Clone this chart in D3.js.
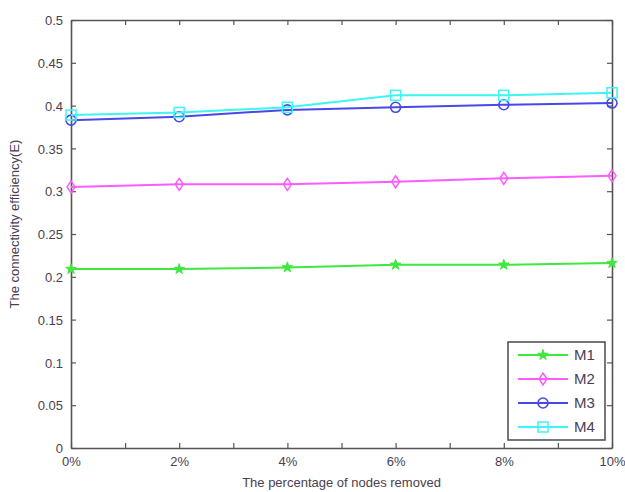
<!DOCTYPE html>
<html>
<head>
<meta charset="utf-8">
<script src="https://cdn.jsdelivr.net/npm/d3@7"></script>
<style>
  body { margin: 0; background: #fff; }
  svg { font-family: Arial, "Liberation Sans", sans-serif; }
</style>
</head>
<body>
<div id="chart"></div>
<script>
// data
const removed = [0, 2, 4, 6, 8, 10];           // % of nodes removed
const m1 = [0.209, 0.209, 0.211, 0.214, 0.214, 0.216];
const m2 = [0.305, 0.308, 0.308, 0.311, 0.315, 0.318];
const m3 = [0.383, 0.387, 0.395, 0.398, 0.401, 0.403];
const m4 = [0.389, 0.392, 0.398, 0.412, 0.412, 0.415];
const seriesNames = ['M1', 'M2', 'M3', 'M4'];
const yTicks = [0, 0.05, 0.1, 0.15, 0.2, 0.25, 0.3, 0.35, 0.4, 0.45, 0.5];
const xTicks = [0, 1, 2, 3, 4, 5, 6, 7, 8, 9, 10];
const xLabelled = [0, 2, 4, 6, 8, 10];

const width = 625, height = 492;
const margin = [20, 44, 71, 13]; // top, bottom, left, right
const axisColor = '#555', textColor = '#4a4050';

const series = [
    { name: seriesNames[0], values: m1, color: '#3fe83f', marker: 'star' },
    { name: seriesNames[1], values: m2, color: '#ff5cff', marker: 'diamond' },
    { name: seriesNames[2], values: m3, color: '#4848e8', marker: 'circle' },
    { name: seriesNames[3], values: m4, color: '#3ef4f4', marker: 'square' }
];

const svg = d3.select('#chart').append('svg')
    .attr('width', width)
    .attr('height', height);

const chartW = width - margin[2] - margin[3],
      chartH = height - margin[0] - margin[1];

const x = d3.scaleLinear([0, 10], [0, chartW]);
const y = d3.scaleLinear([0, 0.5], [chartH, 0]);

const chart = svg.append('g')
    .attr('transform', `translate(${margin[2]}, ${margin[0]})`);

// axes with inward ticks (matlab style), mirrored on top / right
const tickLen = 5;
const fmtX = d => xLabelled.includes(d) ? d + '%' : '';
const fmtY = d => d3.format('~g')(d);

const axisB = chart.append('g').attr('transform', `translate(0, ${chartH})`)
    .call(d3.axisBottom(x).tickValues(xTicks).tickFormat(fmtX).tickSizeInner(-tickLen).tickSizeOuter(0).tickPadding(9));
const axisT = chart.append('g')
    .call(d3.axisTop(x).tickValues(xTicks).tickFormat('').tickSizeInner(-tickLen).tickSizeOuter(0));
const axisL = chart.append('g')
    .call(d3.axisLeft(y).tickValues(yTicks).tickFormat(fmtY).tickSizeInner(-tickLen).tickSizeOuter(0).tickPadding(8));
const axisR = chart.append('g').attr('transform', `translate(${chartW}, 0)`)
    .call(d3.axisRight(y).tickValues(yTicks).tickFormat('').tickSizeInner(-tickLen).tickSizeOuter(0));

[axisB, axisT, axisL, axisR].forEach(a => {
    a.select('.domain').attr('stroke', axisColor).attr('stroke-width', 1.6);
    a.selectAll('.tick line').attr('stroke', axisColor).attr('stroke-width', 1.2);
    a.selectAll('.tick text').attr('fill', textColor).style('font-size', '13px');
});
axisL.selectAll('.tick text').attr('dy', '0.36em');

// lines
const line = d3.line()
    .x((d, i) => x(removed[i]))
    .y(d => y(d));

function drawMarker(g, type, color) {
    if (type === 'star') {
        g.append('path')
            .attr('d', d3.symbol(d3.symbolStar, 34)())
            .attr('fill', color).attr('stroke', color).attr('stroke-width', 1);
    } else if (type === 'diamond') {
        g.append('path')
            .attr('d', 'M0,-6L4,0L0,6L-4,0Z')
            .attr('fill', 'none').attr('stroke', color).attr('stroke-width', 1.5);
    } else if (type === 'circle') {
        g.append('circle').attr('r', 5)
            .attr('fill', 'none').attr('stroke', color).attr('stroke-width', 1.6);
    } else {
        g.append('rect').attr('x', -5).attr('y', -5).attr('width', 10).attr('height', 10)
            .attr('fill', 'none').attr('stroke', color).attr('stroke-width', 1.5);
    }
}

series.forEach(s => {
    chart.append('path')
        .datum(s.values)
        .attr('d', line)
        .attr('fill', 'none')
        .attr('stroke', s.color)
        .attr('stroke-width', 2);
    s.values.forEach((v, i) => {
        const g = chart.append('g').attr('transform', `translate(${x(removed[i])}, ${y(v)})`);
        drawMarker(g, s.marker, s.color);
    });
});

// legend
const legend = svg.append('g').attr('transform', 'translate(508, 342)');
legend.append('rect')
    .attr('width', 97).attr('height', 98)
    .attr('fill', '#fff')
    .attr('stroke', axisColor).attr('stroke-width', 1.6);
const items = legend.selectAll('g.item')
    .data(series)
    .join('g')
    .attr('class', 'item')
    .attr('transform', (d, i) => `translate(0, ${13 + i * 24})`);
items.append('line')
    .attr('x1', 10).attr('x2', 60)
    .attr('stroke', d => d.color).attr('stroke-width', 2);
items.each(function (d) {
    const g = d3.select(this).append('g').attr('transform', 'translate(35, 0)');
    drawMarker(g, d.marker, d.color);
});
items.append('text')
    .attr('x', 66).attr('dy', '0.36em')
    .attr('fill', textColor)
    .style('font-size', '15px')
    .text(d => d.name);

// axis labels
svg.append('text')
    .attr('x', margin[2] + chartW / 2).attr('y', 487)
    .attr('text-anchor', 'middle')
    .attr('fill', textColor)
    .style('font-size', '13px')
    .text('The percentage of nodes removed');
svg.append('text')
    .attr('transform', `translate(19, ${margin[0] + chartH / 2 - 10}) rotate(-90)`)
    .attr('text-anchor', 'middle')
    .attr('fill', textColor)
    .style('font-size', '13px')
    .text('The connectivity efficiency(E)');
</script>
</body>
</html>
